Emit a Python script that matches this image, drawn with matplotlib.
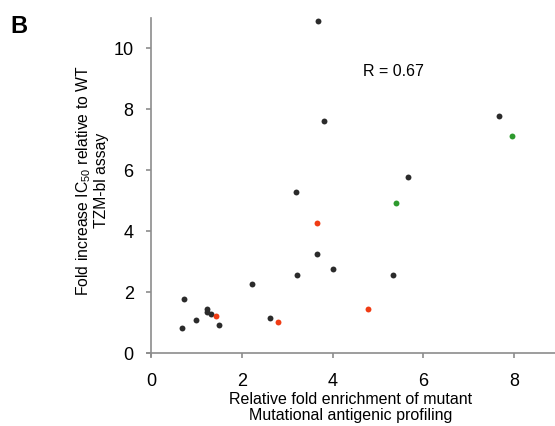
import matplotlib.pyplot as plt

plt.rcParams['font.family'] = ['Liberation Sans', 'DejaVu Sans']
plt.rcParams['mathtext.fontset'] = 'custom'
plt.rcParams['mathtext.rm'] = 'Liberation Sans'

# Точки: збагачення мутанта (x) і зростання IC50 (y)
black_x = [3.67, 3.82, 7.67, 5.67, 3.20, 3.66, 4.01, 3.21, 5.32, 2.22,
           0.73, 1.23, 1.24, 1.33, 0.99, 0.69, 1.49, 2.61]
black_y = [10.9, 7.62, 7.79, 5.78, 5.29, 3.25, 2.76, 2.55, 2.55, 2.28,
           1.79, 1.44, 1.35, 1.27, 1.07, 0.83, 0.92, 1.14]
red_x = [3.66, 4.79, 1.42, 2.80]
red_y = [4.27, 1.44, 1.21, 1.02]
green_x = [7.95, 5.39]
green_y = [7.11, 4.93]

x_ticks = [0, 2, 4, 6, 8]
y_ticks = [0, 2, 4, 6, 8, 10]

fig = plt.figure(figsize=(5.55, 4.26), dpi=100)
ax = fig.add_axes([0.264, 0.164, 0.736, 0.794])

ax.scatter(black_x, black_y, s=18, color='#2b2b2b', linewidths=0, zorder=3)
ax.scatter(red_x, red_y, s=18, color='#f03c14', linewidths=0, zorder=3)
ax.scatter(green_x, green_y, s=18, color='#2e9a2e', linewidths=0, zorder=3)

ax.set_xlim(-0.1, 8.9)
ax.set_ylim(-0.1, 11.0)
ax.set_xticks(x_ticks)
ax.set_yticks(y_ticks)

# Осі перетинаються в нулі
for side in ['top', 'right']:
    ax.spines[side].set_visible(False)
ax.spines['left'].set_position(('data', 0))
ax.spines['bottom'].set_position(('data', 0))
ax.spines['left'].set_color('#8c8c8c')
ax.spines['bottom'].set_color('#8c8c8c')
ax.spines['left'].set_linewidth(1.2)
ax.spines['bottom'].set_linewidth(1.2)
ax.tick_params(axis='both', colors='#8c8c8c', labelcolor='black',
               labelsize=13, length=3.5, width=1.2)
ax.tick_params(axis='x', pad=11)
ax.tick_params(axis='y', pad=9)

ax.set_xlabel('Relative fold enrichment of mutant\nMutational antigenic profiling',
              fontsize=11.5, linespacing=1.15, labelpad=1)
ax.set_ylabel('Fold increase IC$_{50}$ relative to WT\nTZM-bl assay',
              fontsize=11.3, linespacing=1.15, labelpad=3)
ax.yaxis.label.set_y(0.52)

ax.text(5.35, 9.25, 'R = 0.67', fontsize=11.5, ha='center', va='center')
fig.text(0.018, 0.965, 'B', fontsize=17, fontweight='bold', ha='left', va='top')

fig.savefig('out.png', dpi=100)
